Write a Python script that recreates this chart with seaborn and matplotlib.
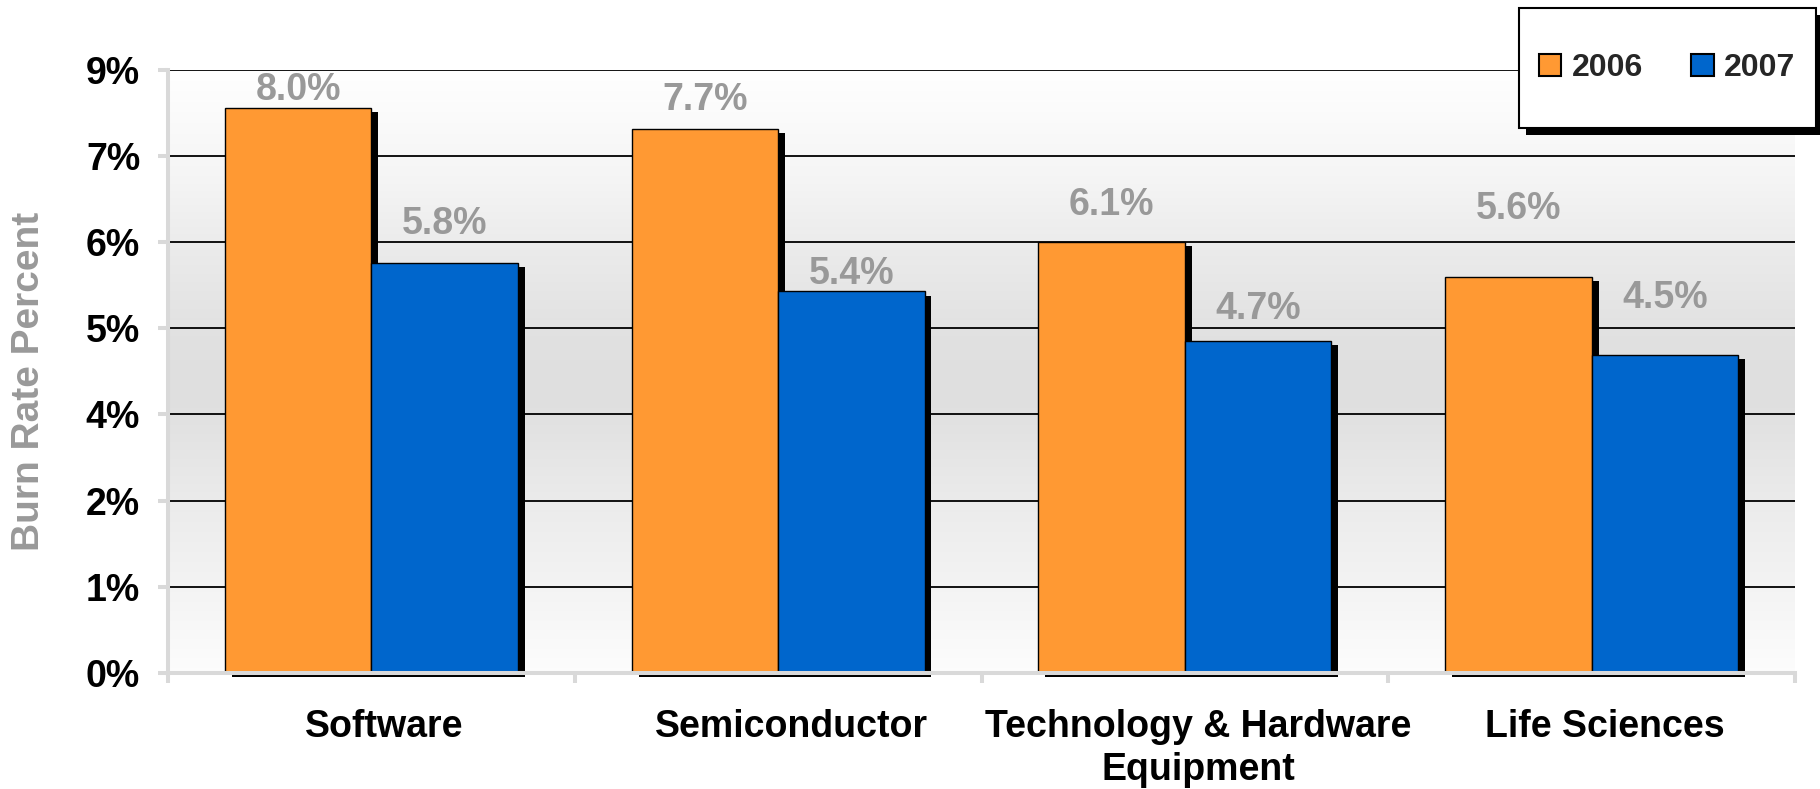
import numpy as np
import pandas as pd
import matplotlib
matplotlib.use('Agg')
import matplotlib.pyplot as plt
import matplotlib.patheffects as pe
import matplotlib.transforms as mtransforms
from matplotlib.patches import Patch, Rectangle
import seaborn as sns

industries = ['Software', 'Semiconductor', 'Technology & Hardware\nEquipment', 'Life Sciences']
years = ['2006', '2007']
burn_2006 = [8.0, 7.7, 6.1, 5.6]
burn_2007 = [5.8, 5.4, 4.7, 4.5]
ytick_labels = ['0%', '1%', '2%', '4%', '5%', '6%', '7%', '9%']
# value labels sit at uneven heights above the bars in the original (px)
lift_2006 = [18, 29, 37, 68]
lift_2007 = [39, 17, 32, 57]

colors = {'2006': '#FF9933', '2007': '#0066CC'}

df = pd.DataFrame({
    'industry': industries * 2,
    'year': [years[0]] * 4 + [years[1]] * 4,
    'burn': burn_2006 + burn_2007,
})

sns.set_theme(style='white')
plt.rcParams['font.family'] = ['Liberation Sans', 'DejaVu Sans']

W, H = 1820, 789
fig = plt.figure(figsize=(W / 100, H / 100), dpi=100)
pos = [168 / W, 116 / H, 1627 / W, 603.4 / H]

# gradient background behind the plot area
bg = fig.add_axes(pos, zorder=-1)
fr = np.linspace(1, 0, 300)
shade = np.interp(fr, [0.0, 0.14, 0.29, 0.45, 0.55, 0.7, 0.82, 1.0],
                  [0.99, 0.955, 0.92, 0.875, 0.88, 0.92, 0.96, 1.0])
bg.imshow(np.repeat(shade[:, None, None], 3, axis=2), aspect='auto',
          extent=(0, 1, 0, 1), interpolation='bilinear')
bg.axis('off')

ax = fig.add_axes(pos)
ax.set_facecolor('none')

sns.barplot(data=df, x='industry', y='burn', hue='year', palette=colors,
            width=0.72, edgecolor='black', linewidth=1, saturation=1,
            legend=False, ax=ax)

shadow = [pe.SimplePatchShadow(offset=(5, -3), shadow_rgbFace='black', alpha=1.0), pe.Normal()]
for bar in ax.patches:
    bar.set_path_effects(shadow)
    bar.set_clip_on(False)

for cont, vals, lifts in zip(ax.containers, [burn_2006, burn_2007], [lift_2006, lift_2007]):
    for bar, v, lift in zip(cont, vals, lifts):
        ax.annotate(f'{v:.1f}%', xy=(bar.get_x() + bar.get_width() / 2, bar.get_height()),
                    xytext=(0, lift * 0.72), textcoords='offset points',
                    ha='center', va='center', fontsize=27, fontweight='bold', color='#999999')

# the original axis runs in 7 equal steps up to about 8.54
ymax = 8.54
ax.set_ylim(0, ymax)
ax.set_xlim(-0.5, 3.5)
ax.set_yticks(np.linspace(0, ymax, len(ytick_labels)))
ax.set_yticklabels(ytick_labels)
ax.set_xticks(np.arange(-0.5, 4, 1), minor=True)
ax.yaxis.grid(True, color='black', linewidth=1.3)
ax.set_axisbelow(True)
ax.set_xlabel('')
ax.set_ylabel('')

for side in ['top', 'right']:
    ax.spines[side].set_visible(False)
for side in ['left', 'bottom']:
    ax.spines[side].set_color('#d9d9d9')
    ax.spines[side].set_linewidth(2.9)

ax.tick_params(axis='y', length=7, width=2.9, color='#d9d9d9', direction='out',
               pad=13, labelsize=27, left=True)
ax.tick_params(axis='x', which='major', length=0, pad=26, labelsize=27)
ax.tick_params(axis='x', which='minor', length=7, width=2.9, color='#d9d9d9',
               direction='out', bottom=True)
for lab in ax.get_yticklabels() + ax.get_xticklabels():
    lab.set_fontweight('bold')
    lab.set_color('black')
# category names sit a little right of the group centres in the original
nudge = mtransforms.ScaledTranslation(13 / 100, 0, fig.dpi_scale_trans)
for lab in ax.get_xticklabels():
    lab.set_linespacing(1.25)
    lab.set_transform(lab.get_transform() + nudge)

fig.text(29 / W, 1 - 381 / H, 'Burn Rate Percent', rotation=90, ha='center', va='center',
         fontsize=28, fontweight='bold', color='#999999')

# legend box with hard black shadow
box = Rectangle((1519 / W, 1 - 128 / H), 297 / W, 120 / H, transform=fig.transFigure,
                facecolor='white', edgecolor='black', linewidth=1.5, zorder=4,
                path_effects=[pe.SimplePatchShadow(offset=(5, -5), shadow_rgbFace='black', alpha=1.0),
                              pe.Normal()])
fig.add_artist(box)

handles = [Patch(facecolor=colors[y], edgecolor='black', linewidth=1.5) for y in years]
fig.legend(handles, years, loc='center', bbox_to_anchor=((1519 + 297 / 2) / W, 1 - 68 / H),
           ncol=2, frameon=False, prop={'size': 23, 'weight': 'bold'},
           handlelength=0.69, handleheight=0.69, handletextpad=0.34,
           columnspacing=1.5, borderpad=0)

fig.savefig('out.png', dpi=100)
